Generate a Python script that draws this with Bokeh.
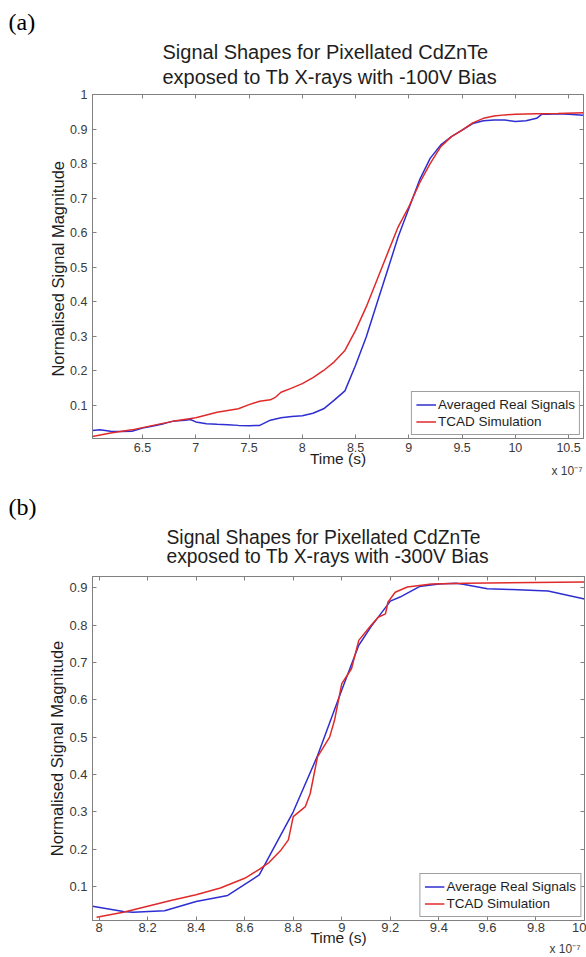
from bokeh.plotting import figure
from bokeh.models import (Range1d, FixedTicker, CustomJSTickFormatter, LinearAxis,
                          Title, Legend, LegendItem)
from bokeh.layouts import column
from bokeh.embed import file_html
from bokeh.resources import INLINE

# ---------------- data (time in units of 1e-7 s) ----------------
a_time_real = [6.03, 6.1, 6.2, 6.3, 6.4, 6.5, 6.6, 6.7, 6.8, 6.9,
               6.95, 7.0, 7.1, 7.2, 7.3, 7.4, 7.5, 7.6, 7.7, 7.8,
               7.9, 8.0, 8.1, 8.2, 8.3, 8.4, 8.5, 8.6, 8.7, 8.8,
               8.9, 9.0, 9.1, 9.2, 9.3, 9.4, 9.5, 9.6, 9.7, 9.8,
               9.9, 10.0, 10.1, 10.2, 10.25, 10.3, 10.4, 10.5, 10.64]
a_real = [0.027, 0.029, 0.025, 0.024, 0.025, 0.034, 0.040, 0.047, 0.055, 0.057,
          0.059, 0.052, 0.047, 0.045, 0.044, 0.042, 0.041, 0.042, 0.057, 0.064,
          0.068, 0.070, 0.077, 0.090, 0.115, 0.142, 0.216, 0.298, 0.395, 0.491,
          0.588, 0.670, 0.752, 0.815, 0.854, 0.878, 0.897, 0.916, 0.924, 0.926,
          0.926, 0.922, 0.924, 0.931, 0.943, 0.943, 0.944, 0.943, 0.940]
a_time_sim = [6.03, 6.2, 6.4, 6.6, 6.8, 7.0, 7.2, 7.4, 7.5, 7.6,
              7.7, 7.75, 7.8, 7.9, 8.0, 8.1, 8.2, 8.3, 8.4, 8.5,
              8.6, 8.7, 8.8, 8.9, 9.0, 9.1, 9.2, 9.3, 9.4, 9.5,
              9.6, 9.7, 9.8, 9.9, 10.0, 10.2, 10.4, 10.64]
a_sim = [0.010, 0.020, 0.029, 0.042, 0.055, 0.064, 0.080, 0.090, 0.102, 0.112,
         0.116, 0.124, 0.138, 0.150, 0.163, 0.180, 0.201, 0.226, 0.259, 0.317,
         0.385, 0.462, 0.540, 0.617, 0.675, 0.743, 0.800, 0.849, 0.878, 0.897,
         0.918, 0.931, 0.938, 0.941, 0.943, 0.944, 0.945, 0.947]

b_time_real = [7.973, 8.1, 8.14, 8.27, 8.4, 8.53, 8.66, 8.8, 8.9, 9.0,
               9.07, 9.12, 9.2, 9.24, 9.32, 9.4, 9.47, 9.5, 9.6, 9.7, 9.85, 10.0]
b_real = [0.047, 0.033, 0.031, 0.035, 0.060, 0.076, 0.131, 0.300, 0.450, 0.626,
          0.746, 0.795, 0.864, 0.875, 0.903, 0.910, 0.912, 0.909, 0.897, 0.895, 0.891, 0.870]
b_time_sim = [7.99, 8.1, 8.2, 8.3, 8.4, 8.5, 8.6, 8.66, 8.7, 8.75,
              8.78, 8.8, 8.85, 8.87, 8.9, 8.95, 8.97, 9.0, 9.04, 9.07,
              9.12, 9.15, 9.18, 9.19, 9.22, 9.27, 9.37, 9.51, 10.0]
b_sim = [0.018, 0.031, 0.047, 0.063, 0.078, 0.096, 0.122, 0.146, 0.164, 0.198,
         0.225, 0.287, 0.314, 0.349, 0.447, 0.500, 0.545, 0.643, 0.683, 0.759,
         0.799, 0.821, 0.830, 0.861, 0.888, 0.902, 0.910, 0.912, 0.915]

a_xticks = [6.5, 7.0, 7.5, 8.0, 8.5, 9.0, 9.5, 10.0, 10.5]
a_yticks = [0.1, 0.2, 0.3, 0.4, 0.5, 0.6, 0.7, 0.8, 0.9, 1.0]
b_xticks = [8.0, 8.2, 8.4, 8.6, 8.8, 9.0, 9.2, 9.4, 9.6, 9.8, 10.0]
b_yticks = [0.1, 0.2, 0.3, 0.4, 0.5, 0.6, 0.7, 0.8, 0.9]

a_title = ["Signal Shapes for Pixellated CdZnTe", "exposed to Tb X-rays with -100V Bias"]
b_title = ["Signal Shapes for Pixellated CdZnTe", "exposed to Tb X-rays with -300V Bias"]
exponent_text = "x 10\u207b\u2077"

SANS = "Liberation Sans"
SERIF = "Liberation Serif"
AXIS_COLOR = "#808080"
TICK_TEXT = "#3a3a3a"
TEXT = "#1e1e1e"
BLUE = "#2e2ed2"
RED = "#e02a2a"


def add_title(p, text, font, size, align, offset, standoff, valign, loc="above",
              color=TEXT):
    t = Title(text=text, align=align, offset=offset, standoff=standoff,
              vertical_align=valign, text_font=font, text_font_size=size,
              text_font_style="normal", text_color=color)
    p.add_layout(t, loc)


def panel(tag, title, ylabel, xr, yr, xticks, yticks, tr, vr, ts, vs, real_name,
          fw, fh, bottom, tick_fs, tick_so, xlab_so, title_fs, title_dx,
          so_l2, so_l1, so_tag, x10_dx, x10_so):
    p = figure(frame_width=fw, frame_height=fh, x_range=Range1d(*xr), y_range=Range1d(*yr),
               output_backend="svg", toolbar_location=None,
               min_border_left=92, min_border_right=2, min_border_top=10,
               min_border_bottom=bottom)
    p.grid.visible = False
    p.outline_line_color = AXIS_COLOR
    p.background_fill_color = "white"
    p.border_fill_color = "white"
    fmt = "return String(Number(tick.toFixed(3)));"

    def style(ax, ticks, labels=True):
        ax.ticker = FixedTicker(ticks=ticks)
        ax.major_tick_in = 4
        ax.major_tick_out = 0
        ax.minor_tick_line_color = None
        ax.axis_line_color = AXIS_COLOR
        ax.major_tick_line_color = AXIS_COLOR
        if labels:
            ax.formatter = CustomJSTickFormatter(code=fmt)
            ax.major_label_text_font = SANS
            ax.major_label_text_font_size = tick_fs
            ax.major_label_text_color = TICK_TEXT
        else:
            ax.formatter = CustomJSTickFormatter(code="return '';")
            ax.major_label_standoff = 0
            ax.major_label_text_font_size = "1px"

    style(p.xaxis[0], xticks)
    p.xaxis[0].major_label_standoff = tick_so
    p.xaxis[0].axis_label = "Time (s)"
    p.xaxis[0].axis_label_text_font = SANS
    p.xaxis[0].axis_label_text_font_size = "15.5px"
    p.xaxis[0].axis_label_text_font_style = "normal"
    p.xaxis[0].axis_label_text_color = TEXT
    p.xaxis[0].axis_label_standoff = xlab_so

    style(p.yaxis[0], yticks)
    p.yaxis[0].major_label_standoff = 5
    p.yaxis[0].axis_label = ylabel
    p.yaxis[0].axis_label_text_font = SANS
    p.yaxis[0].axis_label_text_font_size = "16.5px"
    p.yaxis[0].axis_label_text_font_style = "normal"
    p.yaxis[0].axis_label_text_color = TEXT
    p.yaxis[0].axis_label_standoff = 0

    top_ax = LinearAxis()
    style(top_ax, xticks, labels=False)
    p.add_layout(top_ax, "above")
    right_ax = LinearAxis()
    style(right_ax, yticks, labels=False)
    p.add_layout(right_ax, "right")

    r1 = p.line(tr, vr, line_color=BLUE, line_width=1.5)
    r2 = p.line(ts, vs, line_color=RED, line_width=1.5)
    leg = Legend(items=[LegendItem(label=real_name, renderers=[r1]),
                        LegendItem(label="TCAD Simulation", renderers=[r2])],
                 location="bottom_right", margin=3, padding=4, spacing=0,
                 glyph_width=20, glyph_height=17, label_height=17, label_standoff=2,
                 label_text_font=SANS, label_text_font_size="13.5px",
                 label_text_color=TEXT, border_line_color="#404040",
                 border_line_width=1, background_fill_color="white",
                 background_fill_alpha=1.0)
    p.add_layout(leg)

    # titles stacked outward from the frame: line 2, line 1, panel tag
    add_title(p, title[1], SANS, title_fs, "left", title_dx, so_l2, "top")
    add_title(p, title[0], SANS, title_fs, "left", title_dx, so_l1, "top")
    add_title(p, tag, SERIF, "24px", "left", -84, so_tag, "top", color="black")
    # exponent note under the x axis, right aligned
    add_title(p, exponent_text, SANS, "12px", "right", x10_dx, x10_so, "top",
              loc="below", color=TICK_TEXT)
    return p


pa = panel("(a)", a_title, "Normalised  Signal Magnitude", (6.03, 10.64), (0.004, 1.0),
           a_xticks, a_yticks, a_time_real, a_real, a_time_sim, a_sim,
           "Averaged Real Signals", 491, 344, 42, "12.5px", 4, -5, "20px", 70,
           10.2, -8.8, 17.2, 1, -12)
pb = panel("(b)", b_title, "Normalised Signal Magnitude", (7.973, 10.0), (0.009, 0.93),
           b_xticks, b_yticks, b_time_real, b_real, b_time_sim, b_sim,
           "Average Real Signals", 492, 344, 38, "13px", 2, -6, "19.3px", 74,
           13.8, -20, 27.6, 4, -13)

layout = column(pa, pb, spacing=0)
open("out.html", "w").write(file_html(layout, INLINE))
